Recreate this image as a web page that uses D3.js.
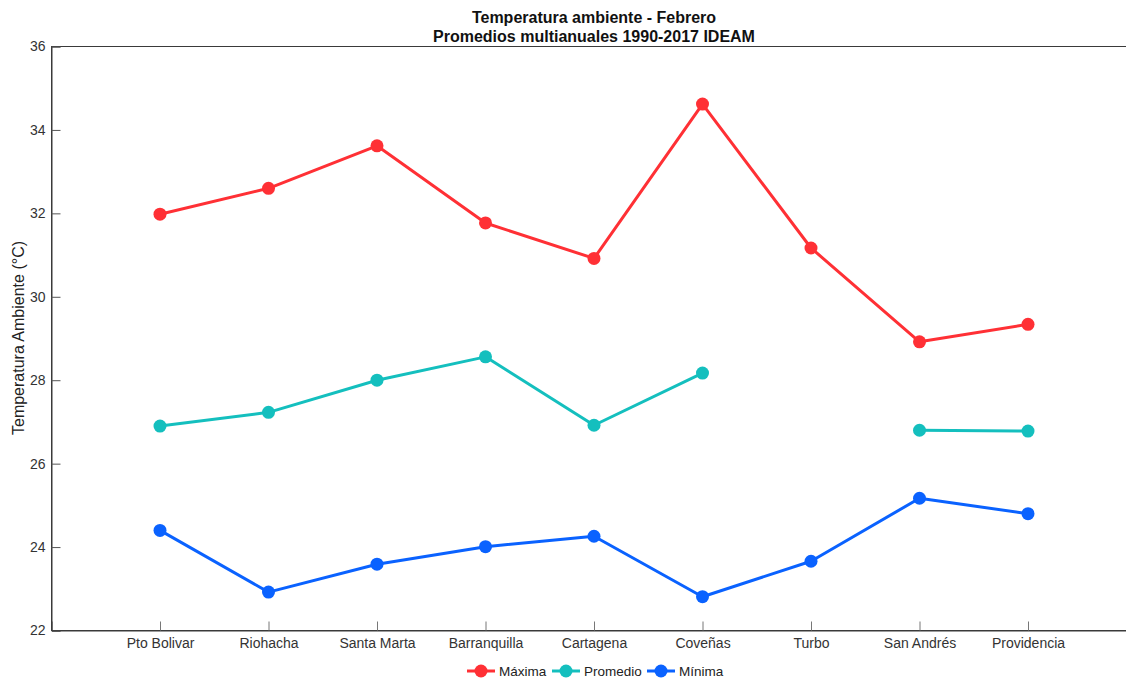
<!DOCTYPE html>
<html><head><meta charset="utf-8">
<script src="https://cdn.jsdelivr.net/npm/d3@7"></script>
<style>
html,body{margin:0;padding:0;background:#fff;}
svg{display:block;font-family:"Liberation Sans",Arial,sans-serif;}
</style></head>
<body><svg id="c" width="1126" height="679"></svg>
<script>
const categories = ["Pto Bolivar","Riohacha","Santa Marta","Barranquilla","Cartagena","Coveñas","Turbo","San Andrés","Providencia"];
const maxima   = [31.98, 32.60, 33.62, 31.77, 30.92, 34.62, 31.17, 28.92, 29.34];
const promedio = [26.90, 27.23, 28.00, 28.56, 26.92, 28.17, null, 26.80, 26.78];
const minima   = [24.40, 22.92, 23.59, 24.01, 24.26, 22.81, 23.66, 25.17, 24.80];
const yTicks = [22,24,26,28,30,32,34,36];
const seriesNames = ["Máxima","Promedio","Mínima"];
const colors = ["#ff3035","#14bfbe","#0a62ff"];
const titleLines = ["Temperatura ambiente - Febrero","Promedios multianuales 1990-2017 IDEAM"];
const yLabel = "Temperatura Ambiente (°C)";

const svg = d3.select("#c");
const L = 51.5, R = 1136.5, T = 46.5, B = 630.5;
const x = d3.scalePoint().domain(categories).range([L, R]).padding(1);
const y = d3.scaleLinear().domain([22,36]).range([B, T]);

// box
svg.append("rect").attr("x",L).attr("y",T).attr("width",R-L).attr("height",B-T)
  .attr("fill","none").attr("stroke","#3a3a3a").attr("stroke-width",1);

// y axis
const ya = svg.append("g").attr("transform",`translate(${L},0)`)
  .call(d3.axisLeft(y).tickValues(yTicks).tickSize(-9).tickPadding(6).tickFormat(d3.format("d")));
ya.select(".domain").attr("stroke","#3a3a3a");
ya.selectAll(".tick line").attr("stroke","#555");
ya.selectAll("text").attr("fill","#333").style("font-size","14px").style("font-family","Liberation Sans, Arial, sans-serif");

// x axis
const xa = svg.append("g").attr("transform",`translate(0,${B})`)
  .call(d3.axisBottom(x).tickSize(-9).tickPadding(8));
xa.select(".domain").attr("stroke","#3a3a3a");
xa.selectAll(".tick line").attr("stroke","#777");
xa.selectAll("text").attr("fill","#333").style("font-size","14px").style("font-family","Liberation Sans, Arial, sans-serif");

// title
svg.append("g").selectAll("text").data(titleLines).join("text")
  .attr("x",594).attr("y",(d,i)=>23+i*19).attr("text-anchor","middle")
  .style("font-size","16px").style("font-weight","bold").attr("fill","#111").text(d=>d);

// y label
svg.append("text").attr("transform","translate(24,338) rotate(-90)").attr("text-anchor","middle")
  .style("font-size","16px").attr("fill","#222").text(yLabel);

// series
const data = [maxima, promedio, minima];
data.forEach((vals,si)=>{
  const pts = vals.map((v,i)=>({c:categories[i],v}));
  const line = d3.line().defined(d=>d.v!==null).x(d=>x(d.c)).y(d=>y(d.v));
  svg.append("path").datum(pts).attr("d",line).attr("fill","none")
    .attr("stroke",colors[si]).attr("stroke-width",3).attr("stroke-linejoin","round");
  svg.append("g").selectAll("circle").data(pts.filter(d=>d.v!==null)).join("circle")
    .attr("cx",d=>x(d.c)).attr("cy",d=>y(d.v)).attr("r",6.5).attr("fill",colors[si]);
});

// legend
const legX = [467, 552, 647];
const lg = svg.append("g");
seriesNames.forEach((n,i)=>{
  const g = lg.append("g").attr("transform",`translate(${legX[i]},671)`);
  g.append("line").attr("x1",0).attr("x2",28).attr("stroke",colors[i]).attr("stroke-width",3);
  g.append("circle").attr("cx",14).attr("r",6.5).attr("fill",colors[i]);
  g.append("text").attr("x",32).attr("y",5).style("font-size","13.5px").attr("fill","#222").text(n);
});
</script></body></html>
